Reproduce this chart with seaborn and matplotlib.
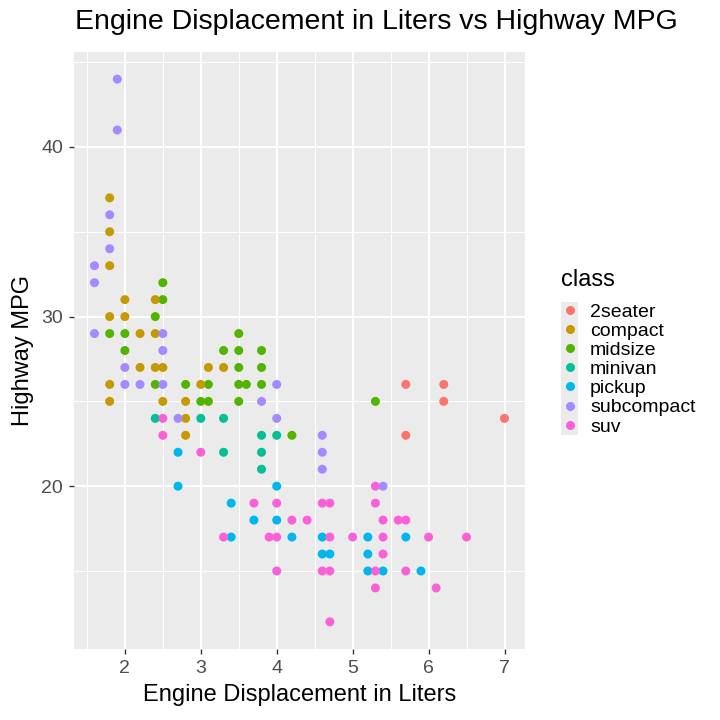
# Engine displacement vs highway mpg, coloured by vehicle class (ggplot-style look)
import numpy as np
import pandas as pd
import matplotlib
matplotlib.use('Agg')
import matplotlib.pyplot as plt
from matplotlib.patches import Rectangle
import seaborn as sns

# classes and the default ggplot hue colours
classes = ['2seater', 'compact', 'midsize', 'minivan', 'pickup', 'subcompact', 'suv']
colors = ['#F8766D', '#C49A00', '#53B400', '#00C094', '#00B6EB', '#A58AFF', '#FB61D7']

# points (displacement in liters, highway mpg)
displ_2seater = [5.7, 5.7, 6.2, 6.2, 7.0]
hwy_2seater = [26, 23, 26, 25, 24]

displ_minivan = [2.4, 3.0, 3.3, 3.3, 3.8, 3.8, 3.8, 4.0]
hwy_minivan = [24, 24, 24, 22, 23, 22, 21, 23]

displ_pickup = [2.7, 2.7, 3.4, 3.4, 3.7, 4.0, 4.0, 4.2, 4.6, 4.6, 4.7,
                5.2, 5.2, 5.2, 5.4, 5.7, 5.9]
hwy_pickup = [22, 20, 19, 17, 18, 20, 18, 17, 17, 16, 16,
              17, 16, 15, 15, 17, 15]

displ_suv = [2.5, 2.5, 3.0, 3.3, 3.7, 3.9, 4.0, 4.0, 4.0, 4.2, 4.4, 4.6,
             4.7, 4.7, 4.6, 4.7, 4.7, 5.0, 5.3, 5.3, 5.3, 5.3, 5.4, 5.4,
             5.4, 5.6, 5.7, 5.7, 6.0, 6.5, 6.1]
hwy_suv = [24, 23, 22, 17, 19, 17, 19, 17, 15, 18, 18, 19,
           19, 17, 15, 15, 12, 17, 20, 19, 15, 14, 18, 17,
           16, 18, 18, 15, 17, 17, 14]

displ_midsize = [2.5, 2.5, 2.4, 1.8, 2.0, 2.0, 2.4, 2.8, 3.1, 3.0, 3.1,
                 3.5, 3.3, 3.5, 3.8, 3.5, 3.8, 3.5, 3.6, 3.8, 3.5, 4.2, 5.3]
hwy_midsize = [32, 31, 30, 29, 29, 28, 26, 26, 26, 25, 25,
               29, 28, 28, 28, 27, 27, 26, 26, 26, 25, 23, 25]

displ_compact = [1.8, 1.8, 1.8, 1.8, 1.8, 1.8, 2.0, 2.0, 2.2, 2.4, 2.2,
                 2.4, 2.5, 2.4, 2.5, 2.8, 2.8, 2.8, 3.0, 3.1, 3.3]
hwy_compact = [37, 35, 33, 30, 26, 25, 31, 30, 29, 29, 27,
               27, 27, 31, 25, 25, 24, 23, 26, 27, 27]

displ_subcompact = [1.9, 1.9, 1.8, 1.8, 1.6, 1.6, 1.6, 2.5, 2.5, 2.0, 2.0,
                    2.2, 2.5, 2.7, 3.8, 4.0, 4.0, 4.6, 4.6, 4.6, 5.4]
hwy_subcompact = [44, 41, 36, 34, 33, 32, 29, 29, 28, 27, 26,
                  26, 26, 24, 25, 26, 24, 23, 22, 21, 20]

groups = [
    ('2seater', displ_2seater, hwy_2seater),
    ('minivan', displ_minivan, hwy_minivan),
    ('pickup', displ_pickup, hwy_pickup),
    ('suv', displ_suv, hwy_suv),
    ('midsize', displ_midsize, hwy_midsize),
    ('compact', displ_compact, hwy_compact),
    ('subcompact', displ_subcompact, hwy_subcompact),
]
df = pd.concat([pd.DataFrame({'displ': d, 'hwy': h, 'class': c}) for c, d, h in groups],
               ignore_index=True)

plt.rcParams['font.family'] = ['Liberation Sans', 'DejaVu Sans']

fig = plt.figure(figsize=(7.2, 7.2), dpi=100)
ax = fig.add_axes([74 / 720, 1 - 649 / 720, 451 / 720, 597 / 720])
ax.set_facecolor('#EBEBEB')

sns.scatterplot(data=df, x='displ', y='hwy', hue='class', hue_order=classes,
                palette=dict(zip(classes, colors)), s=42, linewidth=0, ax=ax)

# ggplot-like 5% expansion
xr = df['displ'].max() - df['displ'].min()
yr = df['hwy'].max() - df['hwy'].min()
ax.set_xlim(df['displ'].min() - 0.05 * xr, df['displ'].max() + 0.05 * xr)
ax.set_ylim(df['hwy'].min() - 0.05 * yr, df['hwy'].max() + 0.05 * yr)

ax.set_xticks([2, 3, 4, 5, 6, 7])
ax.set_xticks(np.arange(1.5, 7.5, 1.0), minor=True)
ax.set_yticks([20, 30, 40])
ax.set_yticks([15, 25, 35, 45], minor=True)
ax.grid(which='major', color='white', linewidth=1.45)
ax.grid(which='minor', color='white', linewidth=0.72)
ax.set_axisbelow(True)
for s in ax.spines.values():
    s.set_visible(False)
ax.tick_params(which='major', length=3.6, width=1.0, color='#333333',
               labelsize=14, labelcolor='#4D4D4D', pad=4.3)
ax.tick_params(which='minor', length=0)

ax.set_xlabel('Engine Displacement in Liters', fontsize=17, labelpad=5)
ax.set_ylabel('Highway MPG', fontsize=17, labelpad=5)
fig.text(75 / 720, 1 - 22 / 720, 'Engine Displacement in Liters vs Highway MPG',
         fontsize=20.5, ha='left', va='center')

# legend: entries only, title placed separately so the gap matches
sns.move_legend(ax, 'upper left', bbox_to_anchor=(561 / 720, 1 - 303 / 720),
                bbox_transform=fig.transFigure, frameon=False, title=None,
                fontsize=14, handlelength=0.89, handletextpad=0.6,
                labelspacing=0.08, borderpad=0, borderaxespad=0)
fig.text(561 / 720, 1 - 286.5 / 720, 'class', fontsize=17, ha='left', va='baseline')

# grey key background like ggplot legend keys
fig.add_artist(Rectangle((561 / 720, 1 - 435 / 720), 17 / 720, 133 / 720,
                         transform=fig.transFigure, facecolor='#EBEBEB',
                         edgecolor='none', zorder=-1))

fig.savefig('out.png', dpi=100)
